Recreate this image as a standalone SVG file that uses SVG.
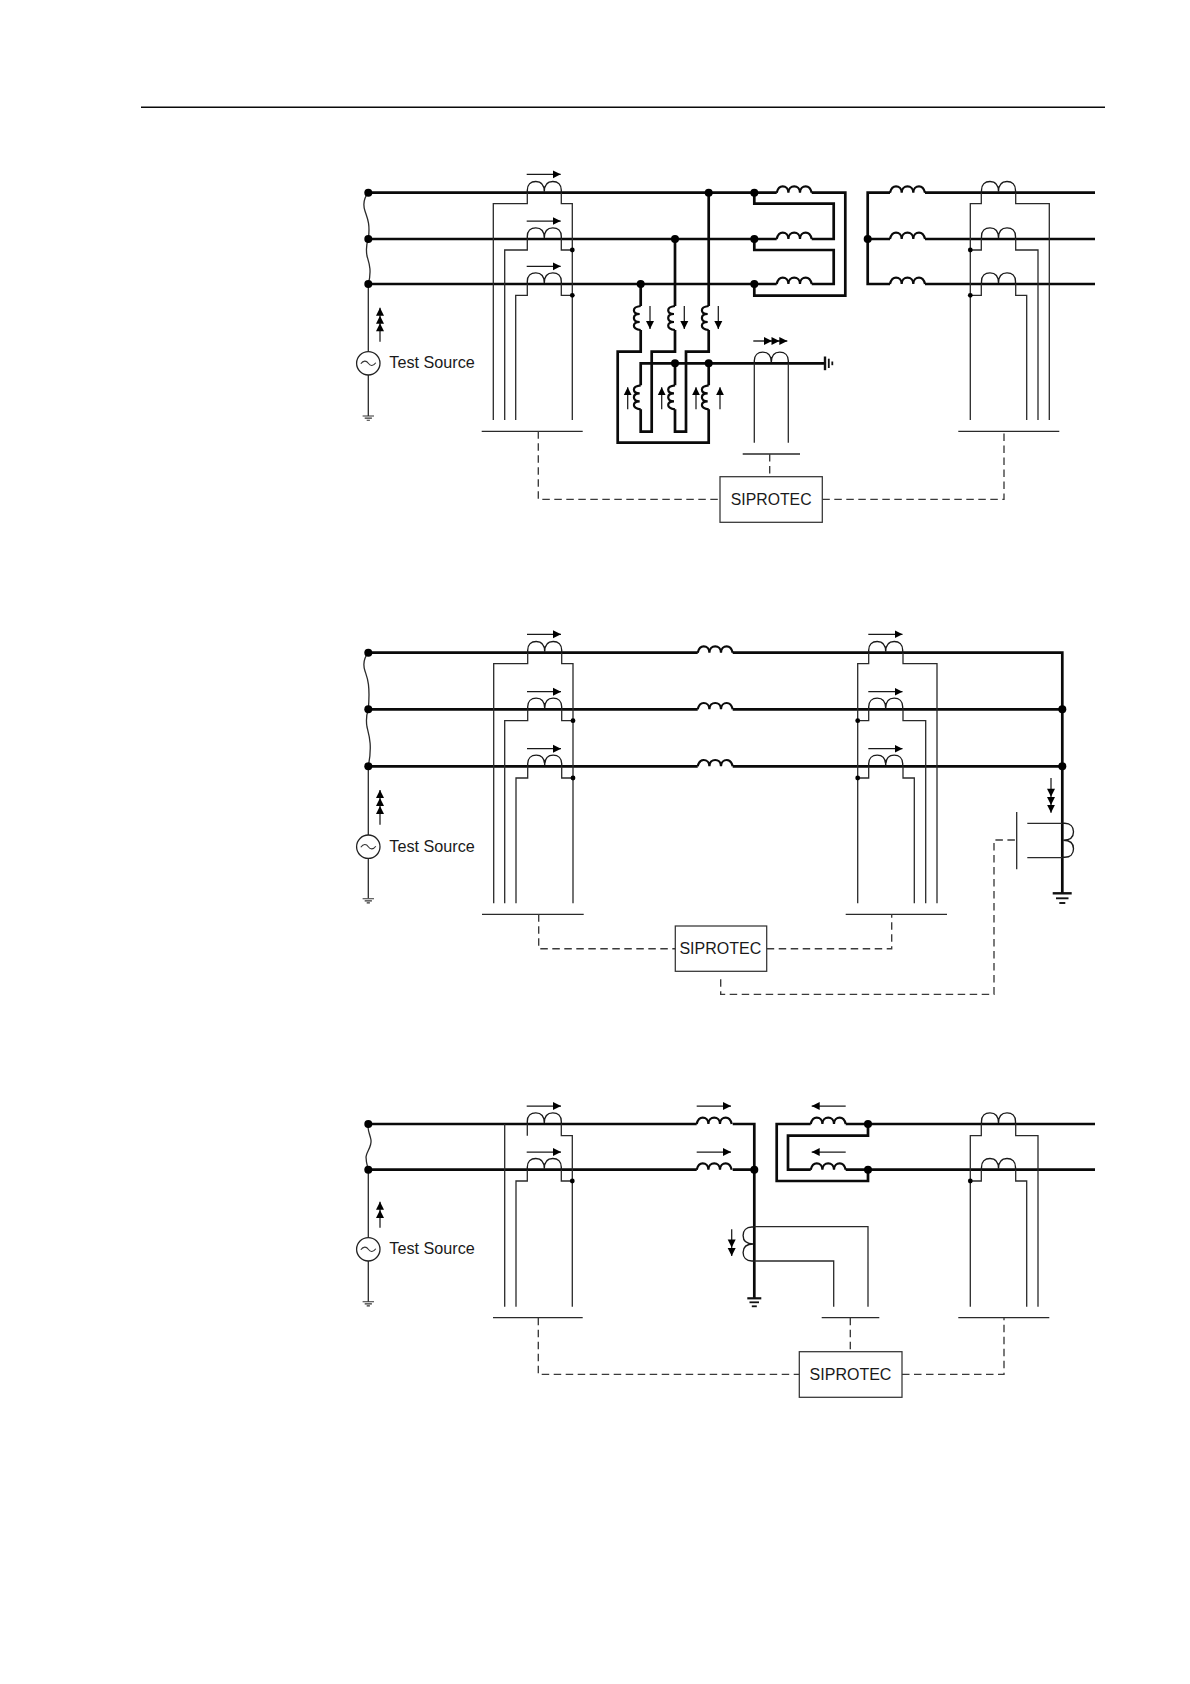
<svg xmlns="http://www.w3.org/2000/svg" width="1190" height="1684" viewBox="0 0 1190 1684">
<style>
.bus{fill:none;stroke:#0a0a0a;stroke-width:2.7}
.thin{fill:none;stroke:#2a2a2a;stroke-width:1.3}
.dash{fill:none;stroke:#3a3a3a;stroke-width:1.35;stroke-dasharray:7.5 4.5}
.arrow{fill:none;stroke:#1a1a1a;stroke-width:1.25;marker-end:url(#head)}
.box{fill:#fff;stroke:#333;stroke-width:1.25}
.big{fill:#000}
.small{fill:#000}
.label{font-family:"Liberation Sans",Arial,sans-serif;fill:#1a1a1a}
.sip{font-size:15.8px;text-anchor:middle}
.ts{font-size:16.2px}
</style>
<defs>
<marker id="head" markerUnits="userSpaceOnUse" markerWidth="10" markerHeight="9" refX="8" refY="4.5" orient="auto"><path d="M0 .5L8 4.5L0 8.5Z" fill="#000"/></marker>
<path id="h" d="M-8 -4L0 0L-8 4Z" fill="#000"/>
<path id="ct" fill="none" stroke="#1a1a1a" stroke-width="1.35" d="M0 0V-2.5C0-8 3.5-11.2 8.5-11.2C13.5-11.2 17-8 17-1C17-8 20.5-11.2 25.5-11.2C30.5-11.2 34-8 34-2.5V0"/>
<path id="coilh" fill="none" stroke="#0a0a0a" stroke-width="2.2" d="M0 0C1-4 3.5-6.3 6-6.3C9-6.3 11.7-4 11.7 0C11.7-4 14.5-6.3 17.5-6.3C20.5-6.3 23.3-4 23.3 0C23.3-4 26-6.3 29-6.3C32-6.3 34-4 35 0"/>
<path id="coilv" fill="none" stroke="#0a0a0a" stroke-width="2.2" d="M0 0C-4.5 .5-6.8 2-6.8 4.2C-6.8 6.5-4.5 8-1 8C-4.5 8-6.8 9.5-6.8 12C-6.8 14.5-4.5 16-1 16C-4.5 16-6.8 17.5-6.8 19.8C-6.8 22-4.5 23.5 0 24"/>
<g id="srcsym">
<circle r="11.7" fill="#fff" stroke="#222" stroke-width="1.3"/>
<path fill="none" stroke="#333" stroke-width="1.1" d="M-7.5 .5C-5 -3-2-3 0 0C2 3 5 3 7.5 -.5"/>
</g>
<path id="gnds" fill="none" stroke="#333" stroke-width="1.15" d="M-5.7 0H5.7M-3.6 2.1H3.6M-1.6 4.2H1.6"/>
</defs>

<path id="page-rule" d="M141 107.3H1105" fill="none" stroke="#0a0a0a" stroke-width="1.4"/>

<g id="connectors">
<!-- figure 1 -->
<path class="thin" d="M368.3 192.7C364 198 363 205 365 211C367 217 370.5 224 368.3 239C366 245 366 250 367 256C369 263 372 270 368.3 284"/>
<path class="thin" d="M368.3 284V351.6M368.3 375V416"/>
<path class="bus" d="M368.3 192.7H776.7M811.7 192.7H845.3V295.7H754.3V284"/>
<path class="bus" d="M368.3 239H776.7M811.7 239H833.7V203.7H754.3V192.7"/>
<path class="bus" d="M368.3 284H776.7M811.7 284H833.7V250H754.3V239"/>
<path class="bus" d="M890 192.7H867.7V284H890M890 239H867.7M925 192.7H1095M925 239H1095M925 284H1095"/>
<path class="bus" d="M708.7 192.7V306M708.7 330V351.7H686V431.7H675V409.3M675 385.3V363.3"/>
<path class="bus" d="M675 239V306M675 330V351.7H651.7V431.7H640.7V409.3M640.7 385.3V363.3H825"/>
<path class="bus" d="M640.7 284V306M640.7 330V351.7H617.7V442.7H708.7V409.3M708.7 385.3V363.3"/>
<path class="thin" d="M527.3 192.7V203.7H493.3V420M561.3 192.7V203.7H572.3V420"/>
<path class="thin" d="M527.3 239V250H504.7V420M561.3 239V250H572.3"/>
<path class="thin" d="M527.3 284V295.3H515.7V420M561.3 284V295.3H572.3"/>
<path class="thin" d="M981.3 192.7V203.7H970.3V420M1015.7 192.7V203.7H1049.3V420"/>
<path class="thin" d="M981.3 239V250H970.3M1015.7 239V250H1038V420"/>
<path class="thin" d="M981.3 284V295.3H970.3M1015.7 284V295.3H1026.7V420"/>
<path class="thin" d="M754.3 363.3V442.7M788.3 363.3V442.7"/>
<path class="thin" d="M481.7 431.3H582.7M958.3 431.3H1059.3M742.7 454H800"/>
<path class="dash" d="M538.3 431.3V499.3H720M822.3 499.3H1004V431.3M769.7 454V476.7"/>

<!-- figure 2 -->
<path class="thin" d="M368.3 652.7C364 658 363 665 365 671C367 677 370.5 684 368.3 709.3C366 716 366 721 367 727C369 735 372.5 745 368.3 766.3"/>
<path class="thin" d="M368.3 766.3V835M368.3 858.4V898.3"/>
<path class="bus" d="M368.3 652.7H697.7M732.7 652.7H1062.3V893.3"/>
<path class="bus" d="M368.3 709.3H697.7M732.7 709.3H1062.3"/>
<path class="bus" d="M368.3 766.3H697.7M732.7 766.3H1062.3"/>
<path class="thin" d="M527.7 652.7V663.7H493.7V903.3M561.7 652.7V663.7H573V903.3"/>
<path class="thin" d="M527.7 709.3V720.7H504.7V903.3M561.7 709.3V720.7H573"/>
<path class="thin" d="M527.7 766.3V778H516V903.3M561.7 766.3V778H573"/>
<path class="thin" d="M868.7 652.7V663.7H857.7V903.3M903 652.7V663.7H937V903.3"/>
<path class="thin" d="M868.7 709.3V720.7H857.7M903 709.3V720.7H925.7V903.3"/>
<path class="thin" d="M868.7 766.3V778H857.7M903 766.3V778H914.3V903.3"/>
<path class="thin" d="M482 914.3H583.7M845.7 914.3H947"/>
<path class="thin" d="M1016.7 812V869.3M1027.3 823.3H1062.3M1027.3 857.7H1062.3"/>
<path class="dash" d="M538.7 914.3V948.7H675.3M766.7 948.7H891.7V914.3"/>
<path class="dash" d="M720.7 979.3V994.3H994V840H1016.7"/>

<!-- figure 3 -->
<path class="thin" d="M368.3 1124C367 1130 370 1134 371 1140C372 1147 366 1152 366 1157C366 1162 367 1165 368.3 1169.7"/>
<path class="thin" d="M368.3 1169.7V1237.6M368.3 1261V1301.7"/>
<path class="bus" d="M368.3 1124H696.7M732.7 1124H754.3V1298.3"/>
<path class="bus" d="M368.3 1169.7H696.7M732.7 1169.7H754.3"/>
<path class="bus" d="M810.7 1124H776.7V1181H868V1169.7H845.7M845.7 1124H868V1135.7H788V1169.7H810.7"/>
<path class="bus" d="M868 1124H1095M868 1169.7H1095"/>
<path class="thin" d="M504.7 1124V1306.7M527.3 1124V1135.7M561.3 1124V1135.7H572.3V1306.7"/>
<path class="thin" d="M527.3 1169.7V1181H516V1306.7M561.3 1169.7V1181H572.3"/>
<path class="thin" d="M981.3 1124V1135.7H970.3V1306.7M1015.7 1124V1135.7H1038V1306.7"/>
<path class="thin" d="M981.3 1169.7V1181H970.3M1015.7 1169.7V1181H1026.7V1306.7"/>
<path class="thin" d="M754.3 1226.7H868V1306.7M754.3 1261H833.7V1306.7"/>
<path class="thin" d="M493 1317.7H582.7M821.7 1317.7H879.3M958.3 1317.7H1049.3"/>
<path class="dash" d="M538.3 1317.7V1374.3H799.3M902 1374.3H1004V1317.7M850.3 1317.7V1351.7"/>
</g>

<g id="fig1-source" transform="translate(368.3 363.3)"><use href="#srcsym"/><use href="#gnds" y="52.7"/></g>
<g id="fig2-source" transform="translate(368.3 846.7)"><use href="#srcsym"/><use href="#gnds" y="52"/></g>
<g id="fig3-source" transform="translate(368.3 1249.3)"><use href="#srcsym"/><use href="#gnds" y="52.4"/></g>
<text class="label ts" x="389.3" y="368.4">Test Source</text>
<text class="label ts" x="389.3" y="851.6">Test Source</text>
<text class="label ts" x="389.3" y="1254.4">Test Source</text>

<g id="fig1-ct-left">
<use href="#ct" x="527.3" y="192.7"/><use href="#ct" x="527.3" y="239"/><use href="#ct" x="527.3" y="284"/>
<circle class="small" cx="572.3" cy="250" r="2.4"/><circle class="small" cx="572.3" cy="295.3" r="2.4"/>
<path class="arrow" d="M526.7 174.3H560.7"/><path class="arrow" d="M526.7 221H560.7"/><path class="arrow" d="M526.7 266.3H560.7"/>
</g>
<g id="fig1-ct-right">
<use href="#ct" x="981.5" y="192.7"/><use href="#ct" x="981.5" y="239"/><use href="#ct" x="981.5" y="284"/>
<circle class="small" cx="970.3" cy="250" r="2.4"/><circle class="small" cx="970.3" cy="295.3" r="2.4"/>
</g>
<g id="fig1-reactors">
<use href="#coilh" x="776.7" y="192.7"/><use href="#coilh" x="776.7" y="239"/><use href="#coilh" x="776.7" y="284"/>
<use href="#coilh" x="890" y="192.7"/><use href="#coilh" x="890" y="239"/><use href="#coilh" x="890" y="284"/>
</g>
<g id="fig1-vt">
<use href="#coilv" x="640.7" y="306"/><use href="#coilv" x="675" y="306"/><use href="#coilv" x="708.7" y="306"/>
<use href="#coilv" x="640.7" y="385.3"/><use href="#coilv" x="675" y="385.3"/><use href="#coilv" x="708.7" y="385.3"/>
<path class="arrow" d="M650 306V329"/><path class="arrow" d="M684.3 306V329"/><path class="arrow" d="M718.3 306V329"/>
<path class="arrow" d="M627.7 409.3V387.3"/><path class="arrow" d="M661.7 409.3V387.3"/><path class="arrow" d="M696 409.3V387.3"/><path class="arrow" d="M720 409.3V387.3"/>
</g>
<g id="fig1-neutral-ct">
<use href="#ct" x="754.3" y="363.3"/>
<path class="thin" d="M753.3 341H787.3"/>
<use href="#h" transform="translate(772 341)"/><use href="#h" transform="translate(779.5 341)"/><use href="#h" transform="translate(787.3 341)"/>
<path fill="none" stroke="#111" d="M825 356.5V370.2" stroke-width="2.4"/><path fill="none" stroke="#111" d="M828.8 358.7V368" stroke-width="1.8"/><path fill="none" stroke="#111" d="M832.3 361.5V365.2" stroke-width="1.8"/>
</g>
<g id="fig1-source-arrow"><path class="arrow" d="M380 341.7V307.7"/><use href="#h" transform="translate(380 315.7) rotate(-90)"/><use href="#h" transform="translate(380 323.3) rotate(-90)"/></g>

<g id="fig2-ct-left">
<use href="#ct" x="527.7" y="652.7"/><use href="#ct" x="527.7" y="709.3"/><use href="#ct" x="527.7" y="766.3"/>
<circle class="small" cx="573" cy="720.7" r="2.4"/><circle class="small" cx="573" cy="778" r="2.4"/>
<path class="arrow" d="M527 634.3H561"/><path class="arrow" d="M527 691.7H561"/><path class="arrow" d="M527 748.7H561"/>
</g>
<g id="fig2-ct-right">
<use href="#ct" x="868.7" y="652.7"/><use href="#ct" x="868.7" y="709.3"/><use href="#ct" x="868.7" y="766.3"/>
<circle class="small" cx="857.7" cy="720.7" r="2.4"/><circle class="small" cx="857.7" cy="778" r="2.4"/>
<path class="arrow" d="M868.3 634.3H902.5"/><path class="arrow" d="M868.3 691.7H902.5"/><path class="arrow" d="M868.3 748.7H902.5"/>
</g>
<g id="fig2-reactors"><use href="#coilh" x="697.7" y="652.7"/><use href="#coilh" x="697.7" y="709.3"/><use href="#coilh" x="697.7" y="766.3"/></g>
<g id="fig2-earth-ct">
<use href="#ct" transform="translate(1062.3 823.3) rotate(90)"/>
<path fill="none" stroke="#111" d="M1052.7 893.3H1071.7" stroke-width="2.4"/><path fill="none" stroke="#111" d="M1056 898.3H1068.5" stroke-width="1.9"/><path fill="none" stroke="#111" d="M1059.3 903H1065.3" stroke-width="1.9"/>
<path class="arrow" d="M1051 778V812.7"/><use href="#h" transform="translate(1051 796.7) rotate(90)"/><use href="#h" transform="translate(1051 805) rotate(90)"/>
</g>
<g id="fig2-source-arrow"><path class="arrow" d="M380 824.7V790"/><use href="#h" transform="translate(380 798) rotate(-90)"/><use href="#h" transform="translate(380 806) rotate(-90)"/></g>

<g id="fig3-ct-left">
<use href="#ct" x="527.3" y="1124"/><use href="#ct" x="527.3" y="1169.7"/>
<circle class="small" cx="572.3" cy="1181" r="2.4"/>
<path class="arrow" d="M526.7 1106H561"/><path class="arrow" d="M526.7 1152H561"/>
</g>
<g id="fig3-ct-right">
<use href="#ct" x="981.5" y="1124"/><use href="#ct" x="981.5" y="1169.7"/>
<circle class="small" cx="970.3" cy="1181" r="2.4"/>
</g>
<g id="fig3-reactors">
<use href="#coilh" x="696.7" y="1124"/><use href="#coilh" x="696.7" y="1169.7"/><use href="#coilh" x="810.7" y="1124"/><use href="#coilh" x="810.7" y="1169.7"/>
<path class="arrow" d="M696.7 1106H731"/><path class="arrow" d="M696.7 1152H731"/><path class="arrow" d="M845.7 1106H811.7"/><path class="arrow" d="M845.7 1152H811.7"/>
</g>
<g id="fig3-earth-ct">
<use href="#ct" transform="translate(754.3 1261) rotate(-90)"/>
<path fill="none" stroke="#111" d="M747.3 1298.3H761.3" stroke-width="2.2"/><path fill="none" stroke="#111" d="M749.5 1302.3H759" stroke-width="1.8"/><path fill="none" stroke="#111" d="M751.8 1306.3H756.8" stroke-width="1.8"/>
<path class="arrow" d="M731.7 1229.3V1256"/><use href="#h" transform="translate(731.7 1247.5) rotate(90)"/>
</g>
<g id="fig3-source-arrow"><path class="arrow" d="M380 1227.7V1201.7"/><use href="#h" transform="translate(380 1210) rotate(-90)"/></g>

<g id="junctions">
<circle class="big" cx="368.3" cy="192.7" r="4"/><circle class="big" cx="368.3" cy="239" r="4"/><circle class="big" cx="368.3" cy="284" r="4"/>
<circle class="big" cx="708.7" cy="192.7" r="4"/><circle class="big" cx="675" cy="239" r="4"/><circle class="big" cx="640.7" cy="284" r="4"/>
<circle class="big" cx="754.3" cy="192.7" r="4"/><circle class="big" cx="754.3" cy="239" r="4"/><circle class="big" cx="754.3" cy="284" r="4"/>
<circle class="big" cx="867.7" cy="239" r="4"/><circle class="big" cx="675" cy="363.3" r="4"/><circle class="big" cx="708.7" cy="363.3" r="4"/>
<circle class="big" cx="368.3" cy="652.7" r="4"/><circle class="big" cx="368.3" cy="709.3" r="4"/><circle class="big" cx="368.3" cy="766.3" r="4"/>
<circle class="big" cx="1062.3" cy="709.3" r="4"/><circle class="big" cx="1062.3" cy="766.3" r="4"/>
<circle class="big" cx="368.3" cy="1124" r="4"/><circle class="big" cx="368.3" cy="1169.7" r="4"/>
<circle class="big" cx="754.3" cy="1169.7" r="4"/><circle class="big" cx="868" cy="1124" r="4"/><circle class="big" cx="868" cy="1169.7" r="4"/>
</g>

<g id="fig1-siprotec"><rect class="box" x="720" y="476.7" width="102.3" height="45.6"/><text class="label sip" x="771.2" y="504.6">SIPROTEC</text></g>
<g id="fig2-siprotec"><rect class="box" x="675.3" y="926" width="91.4" height="45.3"/><text class="label sip" style="font-size:16px" x="720.3" y="954">SIPROTEC</text></g>
<g id="fig3-siprotec"><rect class="box" x="799.3" y="1351.7" width="102.7" height="45.6"/><text class="label sip" style="font-size:16px" x="850.5" y="1379.6">SIPROTEC</text></g>
</svg>
